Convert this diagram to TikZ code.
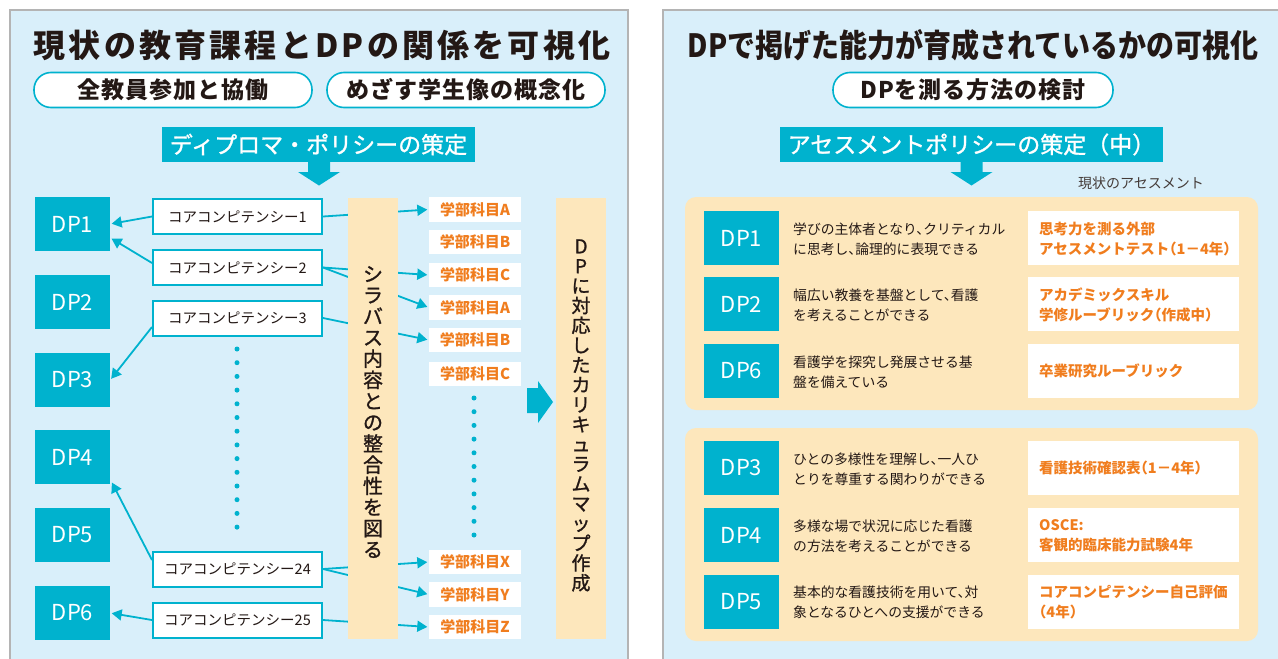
\documentclass[tikz,border=0pt]{standalone}
\usepackage{fontspec}
\usepackage{graphicx}
\setmainfont{Noto Sans CJK JP}
\newfontfamily\trackA[LetterSpace=10]{Noto Sans CJK JP}
\newfontfamily\trackB[LetterSpace=4]{Noto Sans CJK JP}
\newfontfamily\medfont[FakeBold=1.2]{Noto Sans CJK JP}
\newfontfamily\halffont[RawFeature=+halt]{Noto Sans CJK JP}
\usetikzlibrary{arrows.meta,calc}
\definecolor{cyanM}{RGB}{0,178,206}
\definecolor{bgblue}{RGB}{217,239,250}
\definecolor{paleor}{RGB}{253,231,188}
\definecolor{ortext}{RGB}{240,125,30}
\definecolor{ink}{RGB}{35,24,21}
\definecolor{framegray}{RGB}{180,180,180}
\begin{document}
\begin{tikzpicture}[x=1pt,y=-1pt,
  dpbox/.style={fill=cyanM, text=white, minimum width=75pt, minimum height=54pt, inner sep=0pt, font=\fontsize{22}{22}\selectfont},
  ccbox/.style={draw=cyanM, line width=2pt, fill=white, minimum width=169pt, minimum height=35pt, inner sep=0pt, text=ink, font=\fontsize{14.5}{15}\selectfont},
  subj/.style={fill=white, text=ortext, minimum width=92pt, minimum height=24.5pt, inner sep=0pt, font=\bfseries\fontsize{15}{15}\selectfont},
  link/.style={draw=cyanM, line width=1.8pt, shorten >=1.5pt, -{Triangle[length=10pt,width=11pt]}},
  barbox/.style={fill=paleor, minimum width=50pt, minimum height=441pt, inner sep=0pt},
  vtext/.style={text=ink, align=center, inner sep=0pt},
  pill/.style={draw=cyanM, line width=1.6pt, fill=white, rounded corners=17pt, minimum width=278pt, minimum height=35pt, inner sep=0pt, text=ink, font=\trackB\bfseries\fontsize{23}{23}\selectfont},
  cbar/.style={fill=cyanM, text=white, inner sep=0pt, minimum height=35pt, font=\medfont\fontsize{23}{23}\selectfont},
  orpanel/.style={fill=paleor, rounded corners=11pt, minimum width=573pt, minimum height=213pt, inner sep=0pt},
  wbox/.style={fill=white, minimum width=211pt, minimum height=54pt, inner sep=0pt},
  desc/.style={anchor=west, align=left, inner sep=0pt, text=ink, font=\halffont\fontsize{13.8}{20}\selectfont},
  otext/.style={anchor=west, align=left, inner sep=0pt, text=ortext, font=\halffont\bfseries\fontsize{14.5}{20}\selectfont},
  dotline/.style={cyanM, line width=5pt, line cap=round, dash pattern=on 0pt off 13.7pt}
]
\useasboundingbox (0,0) rectangle (1278,659);
\fill[white] (0,0) rectangle (1278,659);
% panels
\fill[bgblue] (10,10) rectangle (628,680);
\draw[framegray, line width=1.2pt] (10,680) -- (10,10) -- (628,10) -- (628,680);
\fill[bgblue] (663,10) rectangle (1290,680);
\draw[framegray, line width=1.2pt] (663,680) -- (663,10) -- (1290,10);

% ===== LEFT PANEL =====
\node[text=ink, inner sep=0pt, font=\trackA\bfseries\fontsize{32}{32}\selectfont] (ltitle) at (322,45) {現状の教育課程とDPの関係を可視化};
\node[pill] (lp1) at (173,90) {全教員参加と協働};
\node[pill] (lp2) at (466,90) {めざす学生像の概念化};
\node[cbar, minimum width=313pt] (dpbar) at (318.5,144.5) {ディプロマ・ポリシーの策定};
\fill[cyanM] (308,161) -- (330,161) -- (330,172) -- (340,172) -- (319,185.5) -- (298,172) -- (308,172) -- cycle;

% DP boxes
\node[dpbox] (dp1) at (72.5,224) {DP1};
\node[dpbox] (dp2) at (72.5,302) {DP2};
\node[dpbox] (dp3) at (72.5,380) {DP3};
\node[dpbox] (dp4) at (72.5,457) {DP4};
\node[dpbox] (dp5) at (72.5,535) {DP5};
\node[dpbox] (dp6) at (72.5,613) {DP6};

% core competencies
\node[ccbox] (cc1) at (237.5,216.5) {コアコンピテンシー1};
\node[ccbox] (cc2) at (237.5,267.5) {コアコンピテンシー2};
\node[ccbox] (cc3) at (237.5,318) {コアコンピテンシー3};
\node[ccbox] (cc24) at (237.5,569) {コアコンピテンシー24};
\node[ccbox] (cc25) at (237.5,620) {コアコンピテンシー25};

% subjects
\node[subj] (sA) at (475,209.5) {学部科目A};
\node[subj] (sB) at (475,242) {学部科目B};
\node[subj] (sC) at (475,275) {学部科目C};
\node[subj] (sA2) at (475,307.5) {学部科目A};
\node[subj] (sB2) at (475,340) {学部科目B};
\node[subj] (sC2) at (475,374) {学部科目C};
\node[subj] (sX) at (475,562) {学部科目X};
\node[subj] (sY) at (475,594.5) {学部科目Y};
\node[subj] (sZ) at (475,627) {学部科目Z};

% dotted lines
\coordinate (d1a) at (237,349);
\coordinate (d1b) at (237,540);
\draw[dotline] (d1a) -- (d1b);
\coordinate (d2a) at (474,398);
\coordinate (d2b) at (474,541);
\draw[dotline] (d2a) -- (d2b);

% connectors to DP
\draw[link] (cc1.west) -- (dp1.east);
\draw[link] ($(cc2.west)+(0,-4.5)$) -- (dp1.-20);
\draw[link] ($(cc3.west)+(0,9)$) -- (dp3.east);
\draw[link] ($(cc24.west)+(0,-9)$) -- ($(dp4.south east)+(1,-3)$);
\draw[link] (cc25.west) -- (dp6.east);

% connectors to subjects (pass under syllabus bar)
\draw[link] (cc1.east) -- (sA.west);
\draw[link] (cc2.east) -- (sC.west);
\draw[link] (cc2.east) -- (sA2.west);
\draw[link] (cc3.east) -- (sB2.west);
\draw[link] (cc24.east) -- (sX.west);
\draw[link] (cc24.east) -- (sY.west);
\draw[link] (cc25.east) -- (sZ.west);

% syllabus bar
\node[barbox] (syl) at (373,418.5) {};
\node[vtext, font=\medfont\fontsize{20}{21.2}\selectfont] (syltext) at (373,412) {シ\\ラ\\バ\\ス\\内\\容\\と\\の\\整\\合\\性\\を\\図\\る};

% curriculum bar
\node[barbox] (cur) at (581,418.5) {};
\node[vtext, font=\medfont\fontsize{19}{19.8}\selectfont] (curtext) at (581,415.5) {D\\P\\に\\対\\応\\し\\た\\カ\\リ\\キ\\ュ\\ラ\\ム\\マ\\ッ\\プ\\作\\成};
\fill[cyanM] (527,388) -- (538,388) -- (538,381) -- (553,402) -- (538,423) -- (538,413) -- (527,413) -- cycle;

% ===== RIGHT PANEL =====
\node[text=ink, inner sep=0pt, font=\bfseries\fontsize{32}{32}\selectfont] (rtitle) at (973,45) {\scalebox{0.875}[1]{DPで掲げた能力が育成されているかの可視化}};
\node[pill, minimum width=280pt] (rp1) at (973,90) {DPを測る方法の検討};
\node[cbar, minimum width=383pt] (apbar) at (971.5,144.5) {アセスメントポリシーの策定（中）};
\fill[cyanM] (960.5,161) -- (982.5,161) -- (982.5,172) -- (992.5,172) -- (971.5,185.5) -- (950.5,172) -- (960.5,172) -- cycle;
\node[text=ink!85, inner sep=0pt, font=\fontsize{14}{14}\selectfont] (genjo) at (1141,183) {現状のアセスメント};

\node[orpanel] (op1) at (971.5,303.5) {};
\node[orpanel] (op2) at (971.5,534.5) {};

\node[dpbox] (r1) at (741.5,238) {DP1};
\node[dpbox] (r2) at (741.5,304) {DP2};
\node[dpbox] (r6) at (741.5,371) {DP6};
\node[dpbox] (r3) at (741.5,468) {DP3};
\node[dpbox] (r4) at (741.5,535) {DP4};
\node[dpbox] (r5) at (741.5,601.5) {DP5};

\node[desc] (t1) at (793,239) {学びの主体者となり、クリティカル\\に思考し、論理的に表現できる};
\node[desc] (t2) at (793,305) {幅広い教養を基盤として、看護\\を考えることができる};
\node[desc] (t6) at (793,372) {看護学を探究し発展させる基\\盤を備えている};
\node[desc] (t3) at (793,469) {ひとの多様性を理解し、一人ひ\\とりを尊重する関わりができる};
\node[desc] (t4) at (793,536) {多様な場で状況に応じた看護\\の方法を考えることができる};
\node[desc] (t5) at (793,602.5) {基本的な看護技術を用いて、対\\象となるひとへの支援ができる};

\node[wbox] (w1) at (1133.5,238) {};
\node[wbox] (w2) at (1133.5,304) {};
\node[wbox] (w6) at (1133.5,371) {};
\node[wbox] (w3) at (1133.5,468) {};
\node[wbox] (w4) at (1133.5,535) {};
\node[wbox] (w5) at (1133.5,601.5) {};

\node[otext] (o1) at (1039,239) {思考力を測る外部\\アセスメントテスト（1－4年）};
\node[otext] (o2) at (1039,305) {アカデミックスキル\\学修ルーブリック（作成中）};
\node[otext] (o6) at (1039,371) {卒業研究ルーブリック};
\node[otext] (o3) at (1039,468) {看護技術確認表（1－4年）};
\node[otext] (o4) at (1039,536) {OSCE:\\客観的臨床能力試験4年};
\node[otext] (o5) at (1039,602.5) {コアコンピテンシー自己評価\\（4年）};
\end{tikzpicture}
\end{document}
